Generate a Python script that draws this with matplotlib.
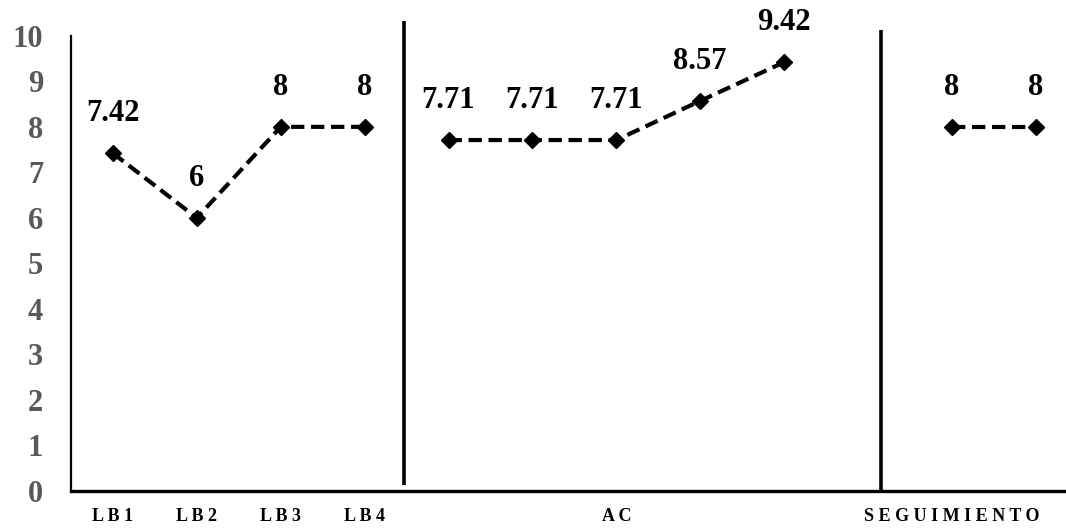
import numpy as np
import matplotlib
matplotlib.use("Agg")
import matplotlib.pyplot as plt

plt.rcParams['font.family'] = ['Liberation Serif', 'DejaVu Serif']

# Category slots along the x axis (12 slots, slot 10 left empty)
categories = ["LB1", "LB2", "LB3", "LB4", "", "", "AC", "", "", "", "SEGUIMIENTO", ""]

# Phases: baseline, intervention (AC) and follow-up
lb_slots = [1, 2, 3, 4]
lb_values = [7.42, 6, 8, 8]
ac_slots = [5, 6, 7, 8, 9]
ac_values = [7.71, 7.71, 7.71, 8.57, 9.42]
seg_slots = [11, 12]
seg_values = [8, 8]

# Phase change lines (x position, y bottom, y top)
phase_lines = [(4.47, 0.13, 10.32), (10.15, 0.0, 10.12)]

y_ticks = list(range(0, 11))


def spaced(s):
    return " ".join(s)


fig = plt.figure(figsize=(10.66, 5.29), dpi=100)
ax = fig.add_axes([0.0666, 0.0718, 0.9334, 0.8605])

for xs, ys in [(lb_slots, lb_values), (ac_slots, ac_values), (seg_slots, seg_values)]:
    ax.plot(xs, ys, color="black", linestyle=(0, (3.2, 1.6)), linewidth=3.0,
            marker="D", markersize=8.5, markerfacecolor="black",
            markeredgecolor="black", zorder=3)
    for x, y in zip(xs, ys):
        ax.annotate(f"{y:g}", (x, y), xytext=(0, 18), textcoords="offset points",
                    ha="center", va="bottom", fontsize=22, fontweight="bold",
                    color="black")

for x, y0, y1 in phase_lines:
    ax.plot([x, x], [y0, y1], color="black", linewidth=2.6, clip_on=False,
            solid_capstyle="butt", zorder=2)

ax.set_ylim(0, 10)
ax.set_xlim(0.5, 12.36)
ax.set_yticks(y_ticks)
ax.set_yticklabels([str(v) for v in y_ticks], fontsize=22, fontweight="bold",
                   color="#595959")
ax.set_xticks(range(1, len(categories) + 1))
ax.set_xticklabels([spaced(c) for c in categories], fontsize=13,
                   fontweight="bold", color="black")
ax.tick_params(axis="y", length=0, pad=20)
ax.tick_params(axis="x", length=0, pad=12)

for side in ["top", "right"]:
    ax.spines[side].set_visible(False)
ax.spines["left"].set_linewidth(1.6)
ax.spines["bottom"].set_linewidth(2.4)

fig.savefig("out.png", dpi=100)
